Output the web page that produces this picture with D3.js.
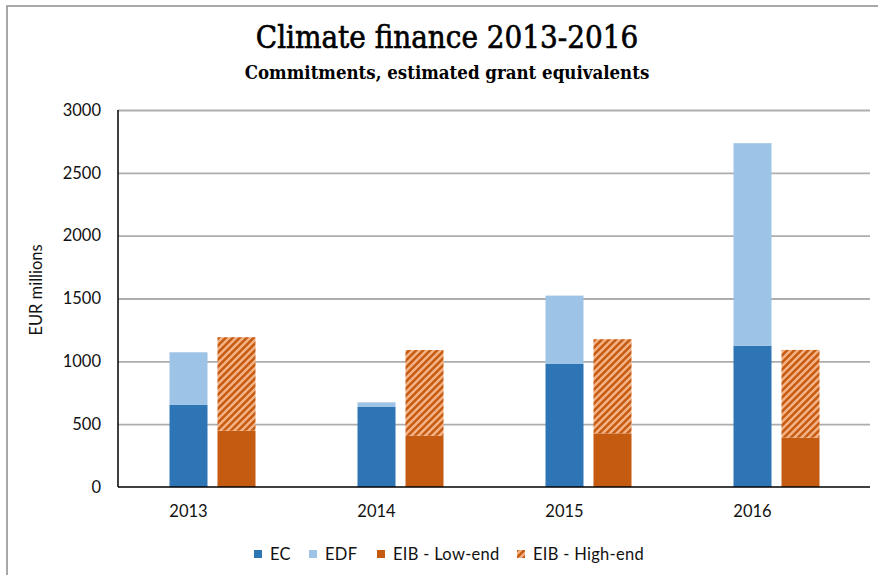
<!DOCTYPE html>
<html>
<head>
<meta charset="utf-8">
<script src="https://cdn.jsdelivr.net/npm/d3@7"></script>
<style>
  html, body { margin: 0; padding: 0; background: #fff; }
  svg { display: block; }
</style>
</head>
<body>
<svg id="chart" width="878" height="575"></svg>
<script>
// Climate finance commitments, EUR millions (stacked segments)
const years = ["2013", "2014", "2015", "2016"];
const ecValues = [653, 637, 979, 1123];          // EC
const edfValues = [419, 37, 544, 1613];          // EDF, stacked on EC
const eibLowValues = [448, 408, 427, 393];       // EIB - Low-end
const eibHighValues = [744, 682, 749, 698];      // EIB - High-end, stacked on Low-end
const yTicks = [0, 500, 1000, 1500, 2000, 2500, 3000];
const seriesNames = ["EC", "EDF", "EIB - Low-end", "EIB - High-end"];
const seriesColors = ["#2E75B6", "#9DC3E6", "#C55A11", "url(#hatch)"];

const svg = d3.select("#chart");
const margin = { left: 118, right: 8, top: 110, bottom: 88 };
const W = 878, H = 575;
const x0 = margin.left, x1 = W - margin.right;
const yTop = margin.top, yBottom = H - margin.bottom;
const labelFont = "Lato, 'Open Sans', sans-serif";

// hatched fill for the high-end estimate
const defs = svg.append("defs");
const pat = defs.append("pattern")
  .attr("id", "hatch")
  .attr("patternUnits", "userSpaceOnUse")
  .attr("width", 7).attr("height", 7);
pat.append("rect").attr("width", 7).attr("height", 7).attr("fill", "#C55A11");
pat.append("path")
  .attr("d", "M-1.75,1.75 l3.5,-3.5 M0,7 l7,-7 M5.25,8.75 l3.5,-3.5")
  .attr("stroke", "#F4B183").attr("stroke-width", 2.5);

// outer frame (left and top edges)
svg.append("path")
  .attr("d", `M7,${H} V6 H${W}`)
  .attr("fill", "none").attr("stroke", "#8c8c8c").attr("stroke-width", 1.5);

// titles
svg.append("text")
  .attr("x", 447).attr("y", 48)
  .attr("text-anchor", "middle")
  .style("font-family", "'DejaVu Serif Condensed', 'DejaVu Serif', serif")
  .style("font-stretch", "condensed")
  .style("font-size", "31px")
  .attr("fill", "#000")
  .attr("stroke", "#000").attr("stroke-width", 0.6)
  .text("Climate finance 2013-2016");
svg.append("text")
  .attr("x", 447).attr("y", 79)
  .attr("text-anchor", "middle")
  .style("font-family", "'DejaVu Serif Condensed', 'DejaVu Serif', serif")
  .style("font-stretch", "condensed")
  .style("font-weight", "bold")
  .style("font-size", "18.5px")
  .attr("fill", "#000")
  .text("Commitments, estimated grant equivalents");

// scales
const y = d3.scaleLinear().domain([0, 3000]).range([yBottom, yTop]);
const x = d3.scaleBand().domain(years).range([x0, x1]).padding(0);
const inner = d3.scaleBand().domain(["EU", "EIB"]).range([51.5, 137.5]).paddingInner(10 / 48);

// gridlines
const grid = svg.append("g")
  .attr("transform", `translate(${x0},0)`)
  .call(d3.axisLeft(y).tickValues(yTicks.filter(v => v > 0)).tickSize(-(x1 - x0)).tickFormat(""));
grid.select(".domain").remove();
grid.selectAll("line").attr("stroke", "#adadad").attr("stroke-width", 1.8);

// y axis labels
const yAxis = svg.append("g")
  .attr("transform", `translate(${x0},0)`)
  .call(d3.axisLeft(y).tickValues(yTicks).tickSize(0).tickPadding(17).tickFormat(d3.format("d")));
yAxis.select(".domain").remove();
yAxis.selectAll("text")
  .style("font-family", labelFont)
  .style("font-size", "16.5px")
  .attr("fill", "#111");

// bars
const ecEdf = years.map((yr, i) => ({ yr, ec: ecValues[i], edf: edfValues[i] }));
const eib = years.map((yr, i) => ({ yr, low: eibLowValues[i], high: eibHighValues[i] }));

const gBars = svg.append("g");
const bw = inner.bandwidth();

gBars.selectAll(".ec").data(ecEdf).join("rect")
  .attr("class", "ec")
  .attr("x", d => x(d.yr) + inner("EU")).attr("width", bw)
  .attr("y", d => y(d.ec)).attr("height", d => y(0) - y(d.ec))
  .attr("fill", seriesColors[0]);
gBars.selectAll(".edf").data(ecEdf).join("rect")
  .attr("class", "edf")
  .attr("x", d => x(d.yr) + inner("EU")).attr("width", bw)
  .attr("y", d => y(d.ec + d.edf)).attr("height", d => y(d.ec) - y(d.ec + d.edf))
  .attr("fill", seriesColors[1]);
gBars.selectAll(".low").data(eib).join("rect")
  .attr("class", "low")
  .attr("x", d => x(d.yr) + inner("EIB")).attr("width", bw)
  .attr("y", d => y(d.low)).attr("height", d => y(0) - y(d.low))
  .attr("fill", seriesColors[2]);
gBars.selectAll(".high").data(eib).join("rect")
  .attr("class", "high")
  .attr("x", d => x(d.yr) + inner("EIB")).attr("width", bw)
  .attr("y", d => y(d.low + d.high)).attr("height", d => y(d.low) - y(d.low + d.high))
  .attr("fill", seriesColors[3]);

// axis lines
svg.append("line")
  .attr("x1", x0).attr("x2", x0).attr("y1", yTop).attr("y2", yBottom)
  .attr("stroke", "#000").attr("stroke-width", 1.5);
svg.append("line")
  .attr("x1", x0).attr("x2", x1).attr("y1", yBottom).attr("y2", yBottom)
  .attr("stroke", "#000").attr("stroke-width", 1.5);

// category labels
svg.append("g").selectAll("text").data(years).join("text")
  .attr("x", d => x(d) + inner("EU") + bw / 2)
  .attr("y", 517)
  .attr("text-anchor", "middle")
  .style("font-family", labelFont)
  .style("font-size", "16.5px")
  .attr("fill", "#111")
  .text(d => d);

// y axis title
svg.append("text")
  .attr("transform", "translate(42,290) rotate(-90)")
  .attr("text-anchor", "middle")
  .style("font-family", labelFont)
  .style("font-size", "16.5px")
  .attr("fill", "#111")
  .text("EUR millions");

// legend
const legendX = [254, 309, 377, 517];
const legend = svg.append("g").selectAll("g").data(seriesNames).join("g")
  .attr("transform", (d, i) => `translate(${legendX[i]},554)`);
legend.append("rect")
  .attr("x", 0).attr("y", -4).attr("width", 8).attr("height", 8)
  .attr("fill", (d, i) => seriesColors[i]);
legend.append("text")
  .attr("x", 16).attr("y", 6)
  .style("font-family", labelFont)
  .style("font-size", "16.5px")
  .style("letter-spacing", "0.3px")
  .attr("fill", "#111")
  .text(d => d);
</script>
</body>
</html>
